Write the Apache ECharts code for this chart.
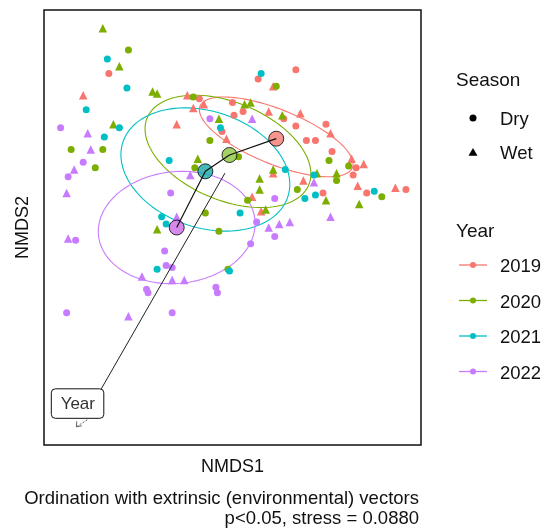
<!DOCTYPE html>
<html>
<head>
<meta charset="utf-8">
<script src="https://cdn.jsdelivr.net/npm/echarts@6/dist/echarts.min.js"></script>
<style>
  html, body { margin: 0; padding: 0; background: #fff; }
  #chart { width: 544px; height: 531px; }
</style>
</head>
<body>
<div id="chart"></div>
<script>
// Groups and colours
const years = ['2019', '2020', '2021', '2022'];
const seasons = ['Dry', 'Wet'];
const yearColors = ['#F8766D', '#7CAE00', '#00BFC4', '#C77CFF'];
const centroidColors = ['#F27A72', '#8DC63F', '#17A9A6', '#CC6CE6'];

// Site scores [NMDS1, NMDS2] by year and season
const dry2019 = [[-0.77,0.55],[-0.17,0.41],[0.05,0.39],[0.06,0.32],[-0.02,0.23],[0.22,0.52],[0.47,0.57],[0.12,0.34],[0.39,0.30],[0.47,0.26],[0.67,0.27],[0.54,0.18],[0.60,0.18],[0.71,0.12],[0.87,0.03],[0.85,-0.01],[0.94,-0.11],[1.20,-0.09],[0.65,-0.11]];
const wet2019 = [[-0.94,0.43],[-0.25,0.43],[-0.21,0.36],[-0.14,0.38],[-0.32,0.27],[0.01,0.19],[0.32,0.48],[0.29,0.34],[0.50,0.33],[0.70,0.22],[0.84,0.08],[0.92,0.05],[0.32,0.00],[0.52,-0.04],[0.88,-0.07],[1.13,-0.08],[0.18,-0.13],[0.24,-0.21]];
const dry2020 = [[-0.64,0.68],[-1.02,0.13],[-0.81,0.13],[-0.21,0.42],[-0.10,0.18],[0.34,0.48],[0.09,0.09],[0.69,0.07],[0.82,0.04],[0.74,-0.04],[0.48,-0.09],[1.04,-0.13],[0.15,-0.15],[-0.13,-0.22],[-0.04,-0.32],[0.02,-0.53],[-0.20,0.03],[-0.86,0.03]];
const wet2020 = [[-0.81,0.80],[-0.70,0.59],[-0.48,0.45],[-0.45,0.44],[-0.74,0.27],[-0.04,0.30],[-0.18,0.08],[0.13,0.38],[0.17,0.39],[0.38,0.32],[0.23,-0.03],[0.32,0.02],[0.61,0.00],[0.74,0.00],[0.23,-0.09],[0.67,-0.15],[0.89,-0.17],[0.27,-0.20],[-0.45,-0.31]];
const dry2021 = [[-0.78,0.63],[-0.65,0.47],[-0.92,0.35],[-0.70,0.25],[-0.80,0.20],[-0.03,0.25],[-0.37,0.07],[0.24,0.55],[0.40,0.02],[0.59,-0.01],[0.53,-0.14],[0.60,-0.12],[0.99,-0.10],[0.10,-0.22],[-0.42,-0.24],[-0.39,-0.28],[-0.45,-0.53],[0.03,-0.54]];
const wet2021 = [];
const dry2022 = [[-1.09,0.25],[-0.94,0.06],[-1.04,-0.02],[-0.10,0.30],[-0.36,-0.11],[0.33,-0.14],[0.21,-0.27],[0.33,-0.35],[0.17,-0.39],[-0.99,-0.37],[-0.40,-0.43],[-0.39,-0.51],[-0.35,-0.52],[-0.52,-0.64],[-0.51,-0.66],[-0.06,-0.63],[-0.05,-0.66],[-1.05,-0.77],[-0.35,-0.77]];
const wet2022 = [[-0.91,0.22],[-0.89,0.13],[-1.00,0.02],[-0.23,-0.01],[-1.05,-0.11],[0.18,0.30],[0.59,-0.05],[0.70,-0.24],[0.29,-0.30],[0.36,-0.28],[0.43,-0.27],[-0.32,-0.24],[-1.04,-0.36],[-0.55,-0.57],[-0.35,-0.59],[-0.27,-0.59],[-0.64,-0.79]];

// Year centroids
const centroids = [[0.34,0.19],[0.03,0.10],[-0.13,0.01],[-0.32,-0.30]];

// Confidence ellipses: centre, half-width, half-height, correlation
const ellipseCx = [0.34, 0.02, -0.13, -0.32];
const ellipseCy = [0.20, 0.12, 0.02, -0.30];
const ellipseSx = [0.51, 0.55, 0.56, 0.52];
const ellipseSy = [0.22, 0.31, 0.34, 0.31];
const ellipseR  = [-0.68, -0.40, -0.24, 0.07];

// Fitted environmental vector
const vectorName = 'Year';
const vectorEnd = [-0.82, -1.19];

const caption = 'Ordination with extrinsic (environmental) vectors\np<0.05, stress = 0.0880';

const FONT = '"Liberation Sans", Arial, sans-serif';
const TEXT = '#111';

const scores = {
  '2019': { Dry: dry2019, Wet: wet2019 },
  '2020': { Dry: dry2020, Wet: wet2020 },
  '2021': { Dry: dry2021, Wet: wet2021 },
  '2022': { Dry: dry2022, Wet: wet2022 }
};
const seasonSymbol = { Dry: 'circle', Wet: 'triangle' };
const seasonSize = { Dry: 7, Wet: 8.5 };

function ellipsePath(i) {
  const pts = [];
  const n = 120;
  const r = ellipseR[i];
  const q = Math.sqrt(1 - r * r);
  for (let k = 0; k <= n; k++) {
    const t = (2 * Math.PI * k) / n;
    pts.push([
      ellipseCx[i] + ellipseSx[i] * Math.cos(t),
      ellipseCy[i] + ellipseSy[i] * (r * Math.cos(t) + q * Math.sin(t))
    ]);
  }
  return pts;
}

const series = [];

years.forEach((y, i) => {
  series.push({
    name: y,
    type: 'line',
    data: ellipsePath(i),
    showSymbol: false,
    silent: true,
    smooth: false,
    lineStyle: { color: yearColors[i], width: 1.1 },
    itemStyle: { color: yearColors[i] },
    z: 1
  });
});

years.forEach((y, i) => {
  seasons.forEach(s => {
    series.push({
      name: y,
      type: 'scatter',
      data: scores[y][s],
      symbol: seasonSymbol[s],
      symbolSize: seasonSize[s],
      itemStyle: { color: yearColors[i], opacity: 1 },
      z: 2
    });
  });
});

series.push({
  name: 'centroids',
  type: 'scatter',
  data: centroids.map((c, i) => ({ value: c, itemStyle: { color: centroidColors[i] } })),
  symbol: 'circle',
  symbolSize: 15,
  itemStyle: { borderColor: '#000', borderWidth: 1 },
  z: 3
});

series.push({
  name: 'trajectory',
  type: 'line',
  data: centroids,
  showSymbol: false,
  silent: true,
  lineStyle: { color: '#111', width: 1.2 },
  z: 4
});

series.push({
  name: vectorName,
  type: 'line',
  data: [[0, 0], vectorEnd],
  showSymbol: false,
  silent: true,
  lineStyle: { color: '#222', width: 1 },
  z: 4
});

series.push({
  name: 'vectorLabel',
  type: 'custom',
  data: [vectorEnd],
  silent: true,
  z: 5,
  renderItem: (params, api) => {
    const p = api.coord([api.value(0), api.value(1)]);
    const x = p[0], y = p[1];
    return {
      type: 'group',
      children: [
        { type: 'rect', shape: { x: x - 50, y: y, width: 52.5, height: 29.5, r: 4 },
          style: { fill: '#fff', stroke: '#111', lineWidth: 1 } },
        { type: 'text',
          style: { text: vectorName, x: x - 23.5, y: y + 15.5, align: 'center', verticalAlign: 'middle',
                   textAlign: 'center', textVerticalAlign: 'middle',
                   fontSize: 17, fontFamily: FONT, fill: '#333' } },
        { type: 'polyline', shape: { points: [[x - 14, y + 31], [x - 25, y + 38]] },
          style: { stroke: '#666', lineWidth: 1, lineDash: [2, 1.5], fill: null } },
        { type: 'polyline', shape: { points: [[x - 24.5, y + 32.5], [x - 25, y + 38], [x - 19.5, y + 37]] },
          style: { stroke: '#666', lineWidth: 1, fill: null } }
      ]
    };
  }
});

// Legend drawn as graphic elements
const graphic = [];
const keyX = 473, labelX = 500, titleX = 456;
graphic.push({ type: 'text', style: { text: 'Season', x: titleX, y: 81, fontSize: 19, fontFamily: FONT, fill: TEXT,
  verticalAlign: 'middle', textVerticalAlign: 'middle' } });
seasons.forEach((s, k) => {
  const cy = 118 + 34 * k;
  if (seasonSymbol[s] === 'circle') {
    graphic.push({ type: 'circle', shape: { cx: keyX, cy: cy, r: 3.5 }, style: { fill: '#000' } });
  } else {
    graphic.push({ type: 'polygon', shape: { points: [[keyX, cy - 4], [keyX + 4.5, cy + 3.8], [keyX - 4.5, cy + 3.8]] },
      style: { fill: '#000' } });
  }
  graphic.push({ type: 'text', style: { text: s, x: labelX, y: cy + 2, fontSize: 18.5, fontFamily: FONT, fill: TEXT,
    verticalAlign: 'middle', textVerticalAlign: 'middle' } });
});
graphic.push({ type: 'text', style: { text: 'Year', x: titleX, y: 232, fontSize: 19, fontFamily: FONT, fill: TEXT,
  verticalAlign: 'middle', textVerticalAlign: 'middle' } });
years.forEach((y, k) => {
  const cy = 265 + 35.5 * k;
  graphic.push({ type: 'line', shape: { x1: 459, y1: cy, x2: 487, y2: cy }, style: { stroke: yearColors[k], lineWidth: 1.3 } });
  graphic.push({ type: 'circle', shape: { cx: keyX, cy: cy, r: 3 }, style: { fill: yearColors[k] } });
  graphic.push({ type: 'text', style: { text: y, x: labelX, y: cy + 2, fontSize: 18.5, fontFamily: FONT, fill: TEXT,
    verticalAlign: 'middle', textVerticalAlign: 'middle' } });
});
graphic.push({ type: 'text', style: { text: caption, x: 419, y: 489, fontSize: 18.5, lineHeight: 20, fontFamily: FONT,
  fill: TEXT, align: 'right', textAlign: 'right' } });

const chart = echarts.init(document.getElementById('chart'), null, { renderer: 'canvas' });
chart.setOption({
  backgroundColor: '#fff',
  animation: false,
  grid: { left: 44, right: 123, top: 10, bottom: 86, show: true, borderColor: '#111', borderWidth: 1.5, backgroundColor: '#fff' },
  xAxis: {
    type: 'value', min: -1.2, max: 1.3,
    name: 'NMDS1', nameLocation: 'middle', nameGap: 13,
    nameTextStyle: { fontSize: 18, fontFamily: FONT, color: TEXT },
    axisLine: { show: false }, axisTick: { show: false }, axisLabel: { show: false }, splitLine: { show: false }
  },
  yAxis: {
    type: 'value', min: -1.5, max: 0.9,
    name: 'NMDS2', nameLocation: 'middle', nameGap: 12, nameRotate: 90,
    nameTextStyle: { fontSize: 18, fontFamily: FONT, color: TEXT },
    axisLine: { show: false }, axisTick: { show: false }, axisLabel: { show: false }, splitLine: { show: false }
  },
  graphic: graphic,
  series: series
});
</script>
</body>
</html>
